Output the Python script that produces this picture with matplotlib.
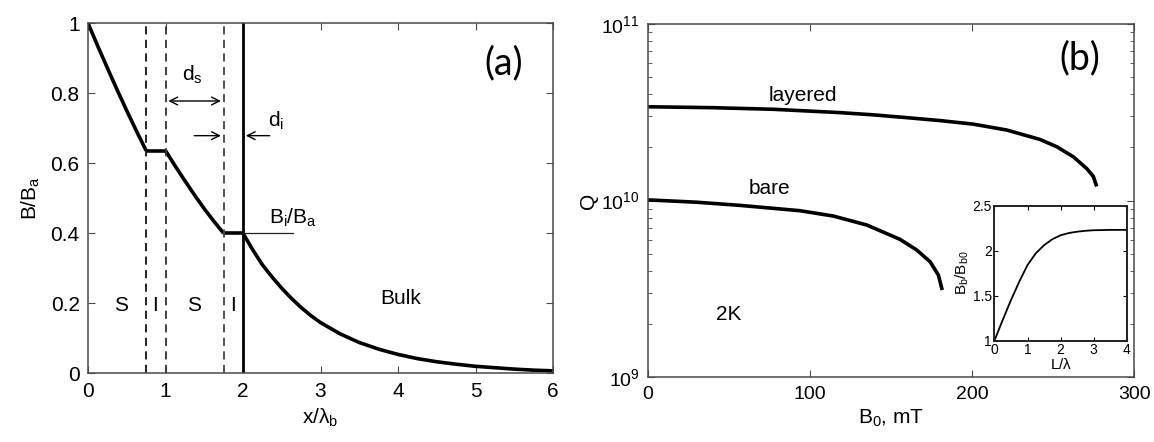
import matplotlib
matplotlib.use("Agg")
import matplotlib.pyplot as plt
from matplotlib.ticker import FixedLocator, LogLocator, NullFormatter

plt.rcParams['font.family'] = ['Liberation Sans', 'DejaVu Sans']
plt.rcParams['mathtext.fontset'] = 'custom'
plt.rcParams['mathtext.rm'] = 'Liberation Sans'
plt.rcParams['mathtext.it'] = 'Liberation Sans'
plt.rcParams['mathtext.bf'] = 'Liberation Sans:bold'

# ---- panel (a): field profile through S-I-S-I layers into bulk ----
x_s1 = [0.0, 0.125, 0.25, 0.375, 0.5, 0.625, 0.75]
b_s1 = [1.0, 0.935, 0.872, 0.81, 0.75, 0.692, 0.636]
x_i1 = [0.75, 1.0]
b_i1 = [0.636, 0.636]
x_s2 = [1.0, 1.125, 1.25, 1.375, 1.5, 1.625, 1.75]
b_s2 = [0.636, 0.592, 0.55, 0.509, 0.47, 0.434, 0.40]
x_i2 = [1.75, 2.0]
b_i2 = [0.40, 0.40]
x_bulk = [2.0, 2.125, 2.25, 2.375, 2.5, 2.625, 2.75, 2.875, 3.0, 3.25, 3.5, 3.75,
          4.0, 4.25, 4.5, 4.75, 5.0, 5.25, 5.5, 5.75, 6.0]
b_bulk = [0.40, 0.353, 0.31, 0.275, 0.243, 0.214, 0.188, 0.165, 0.145, 0.113, 0.088, 0.069,
          0.054, 0.042, 0.033, 0.026, 0.020, 0.016, 0.012, 0.009, 0.007]
layer_bounds = [0.75, 1.0, 1.75]
interface_x = 2.0
region_labels = ['S', 'I', 'S', 'I']
region_x = [0.43, 0.87, 1.37, 1.87]
a_xticks = [0, 1, 2, 3, 4, 5, 6]
a_yticks = [0, 0.2, 0.4, 0.6, 0.8, 1.0]
a_yticklabels = ['0', '0.2', '0.4', '0.6', '0.8', '1']

# ---- panel (b): Q versus applied field ----
b0_layered = [0, 40, 77.5, 118.6, 139.2, 159.8, 180.3, 200.9, 221.5, 242, 252.3,
              262.6, 270.8, 274.9, 276.6]
q_layered = [3.40e10, 3.36e10, 3.29e10, 3.15e10, 3.06e10, 2.95e10, 2.84e10, 2.71e10,
             2.51e10, 2.22e10, 2.02e10, 1.77e10, 1.52e10, 1.37e10, 1.23e10]
b0_bare = [0, 30, 57, 94, 114.5, 135.1, 155.6, 165.9, 174.2, 179.3, 181.4]
q_bare = [1.01e10, 9.8e9, 9.4e9, 8.77e9, 8.18e9, 7.28e9, 6.04e9, 5.26e9, 4.51e9,
          3.79e9, 3.19e9]
b_xticks = [0, 100, 200, 300]

# inset: breakdown field enhancement versus layer thickness
l_over_lambda = [0.0, 0.25, 0.5, 0.75, 1.0, 1.25, 1.5, 1.75, 2.0, 2.25, 2.5, 2.75,
                 3.0, 3.5, 4.0]
bb_ratio = [1.0, 1.23, 1.45, 1.655, 1.84, 1.97, 2.06, 2.126, 2.17, 2.195, 2.21, 2.22,
            2.226, 2.23, 2.23]
inset_xticks = [0, 1, 2, 3, 4]
inset_yticks = [1, 1.5, 2, 2.5]

spine_col = '#4a4a4a'
fig = plt.figure(figsize=(11.54, 4.42), dpi=100)


def style_axes(ax, size=14, length=5):
    for s in ax.spines.values():
        s.set_color(spine_col)
        s.set_linewidth(1.1)
    ax.tick_params(which='both', direction='in', top=True, right=True,
                   color=spine_col, labelsize=size, length=length, pad=6)
    ax.tick_params(which='minor', length=length * 0.6)


# ---------------- (a) ----------------
ax = fig.add_axes([0.0763, 0.1554, 0.4029, 0.7919])
lw = 2.6
for xs, bs in [(x_s1, b_s1), (x_i1, b_i1), (x_s2, b_s2), (x_i2, b_i2), (x_bulk, b_bulk)]:
    ax.plot(xs, bs, color='black', lw=lw, solid_capstyle='butt', solid_joinstyle='round')
for xb, col in zip(layer_bounds, ['#111111', '#333333', '#444444']):
    ax.axvline(xb, color=col, lw=1.3, ls=(0, (4.5, 3.0)))
ax.axvline(interface_x, color='black', lw=2.0)
ax.plot([interface_x, 2.65], [b_i2[-1], b_i2[-1]], color='#222222', lw=0.9)
ax.text(2.65, 0.445, r'B$_\mathrm{i}$/B$_\mathrm{a}$', fontsize=15, ha='center', va='center')

arrow_kw = dict(arrowstyle='->', color='black', lw=1.0, mutation_scale=14)
ax.annotate('', xy=(1.0, 0.778), xytext=(1.75, 0.778),
            arrowprops=dict(arrowstyle='<->', color='black', lw=1.0, mutation_scale=14))
ax.text(1.34, 0.853, r'd$_\mathrm{s}$', fontsize=15, ha='center', va='center')
ax.annotate('', xy=(1.75, 0.679), xytext=(1.335, 0.679), arrowprops=arrow_kw)
ax.annotate('', xy=(2.0, 0.679), xytext=(2.38, 0.679), arrowprops=arrow_kw)
ax.text(2.42, 0.72, r'd$_\mathrm{i}$', fontsize=15, ha='center', va='center')

for lab, rx in zip(region_labels, region_x):
    ax.text(rx, 0.195, lab, fontsize=15, ha='center', va='center')
ax.text(4.03, 0.214, 'Bulk', fontsize=15, ha='center', va='center')
ax.text(5.36, 0.886, '(a)', fontsize=27, ha='center', va='center', family=['Lato', 'DejaVu Sans'])

ax.set_xlim(0, 6)
ax.set_ylim(0, 1)
ax.set_xticks(a_xticks)
ax.set_yticks(a_yticks)
ax.set_yticklabels(a_yticklabels)
ax.set_xlabel(r'x/$\lambda_\mathrm{b}$', fontsize=15, labelpad=4)
ax.set_ylabel(r'B/B$_\mathrm{a}$', fontsize=15, labelpad=6)
style_axes(ax, size=15)

# ---------------- (b) ----------------
bx = fig.add_axes([0.5613, 0.1464, 0.4214, 0.7993])
bx.semilogy(b0_layered, q_layered, color='black', lw=2.6, solid_joinstyle='round')
bx.semilogy(b0_bare, q_bare, color='black', lw=2.6, solid_joinstyle='round')
bx.set_xlim(0, 300)
bx.set_ylim(1e9, 1e11)
bx.set_xticks(b_xticks)
bx.yaxis.set_major_locator(FixedLocator([1e9, 1e10, 1e11]))
bx.yaxis.set_minor_locator(LogLocator(base=10, subs=range(2, 10)))
bx.yaxis.set_minor_formatter(NullFormatter())
bx.text(96, 3.96e10, 'layered', fontsize=15, ha='center', va='center')
bx.text(75.4, 1.17e10, 'bare', fontsize=15, ha='center', va='center')
bx.text(50, 2.28e9, '2K', fontsize=15, ha='center', va='center')
bx.text(266.6, 6.4e10, '(b)', fontsize=27, ha='center', va='center', family=['Lato', 'DejaVu Sans'])
bx.set_xlabel(r'B$_\mathrm{0}$, mT', fontsize=15, labelpad=4)
bx.set_ylabel('Q', fontsize=15, labelpad=2)
style_axes(bx, size=14)

ins = bx.inset_axes([0.713, 0.104, 0.272, 0.382])
ins.plot(l_over_lambda, bb_ratio, color='black', lw=1.3)
ins.set_xlim(0, 4)
ins.set_ylim(1, 2.5)
ins.set_xticks(inset_xticks)
ins.set_yticks(inset_yticks)
ins.set_yticklabels(['1', '1.5', '2', '2.5'])
for s in ins.spines.values():
    s.set_color('#222222')
    s.set_linewidth(1.4)
ins.tick_params(direction='in', labelsize=10, length=3, pad=2, top=True, right=True)
ins.set_xlabel(r'L/$\lambda$', fontsize=11, labelpad=0)
ins.set_ylabel(r'B$_\mathrm{b}$/B$_\mathrm{b0}$', fontsize=11, labelpad=1)

fig.savefig('out.png', dpi=100)
